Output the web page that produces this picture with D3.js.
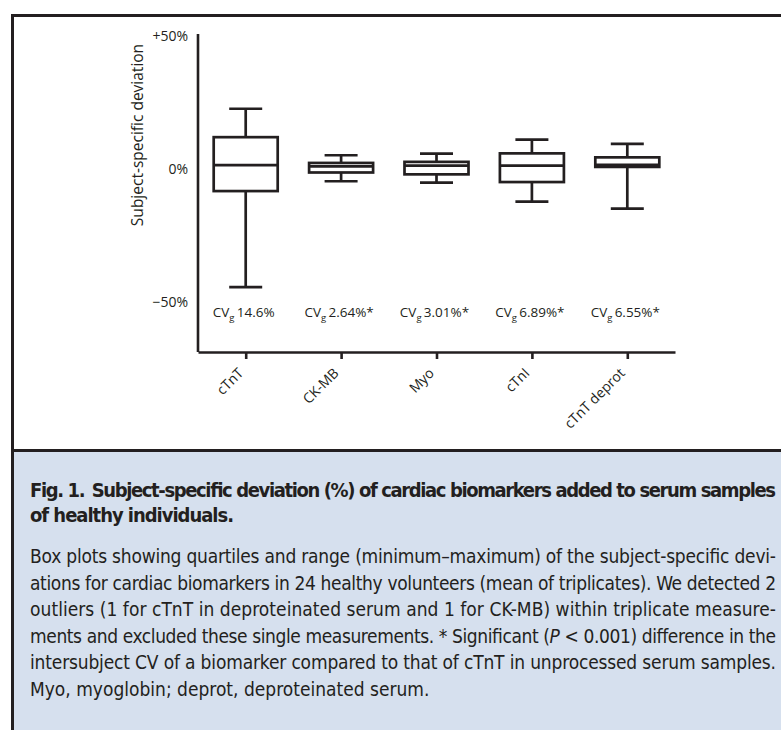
<!DOCTYPE html>
<html>
<head>
<meta charset="utf-8">
<script src="https://cdn.jsdelivr.net/npm/d3@7"></script>
<style>
  body { margin: 0; background: #fff; }
  svg { display: block; }
  .axis path, .axis line { stroke: #231f20; stroke-width: 2.6px; }
  .axis text { font-family: "Open Sans", sans-serif; font-size: 14px; fill: #231f20; }
  .box rect, .box line { stroke: #231f20; stroke-width: 2.7px; fill: none; }
  .cv { font-family: "Open Sans", sans-serif; font-size: 13.5px; fill: #231f20; }
  .cap { font-family: "Liberation Sans Narrow", "DejaVu Sans Condensed", sans-serif; fill: #231f20; }
</style>
</head>
<body>
<svg id="chart" width="781" height="730"></svg>
<script>
// values (subject-specific deviation, %)
const categories = ["cTnT", "CK-MB", "Myo", "cTnI", "cTnT deprot"];
const mins    = [-44.6, -4.7, -5.2, -12.4, -15.0];
const q1s     = [-8.4, -1.4, -2.1, -5.0, 0.7];
const medians = [1.4, 0.9, 1.2, 1.2, 1.5];
const q3s     = [11.9, 2.2, 2.6, 5.8, 4.3];
const maxs    = [22.6, 5.1, 5.7, 11.0, 9.4];
const cvValues = ["14.6%", "2.64%*", "3.01%*", "6.89%*", "6.55%*"];
const yTicks = [-50, 0, 50];
const yTickLabels = ["\u221250%", "0%", "+50%"];

const titleLine1 = ["Fig. 1.", "Subject-specific deviation (%) of cardiac biomarkers added to serum samples"];
const titleLine2 = "of healthy individuals.";
const bodyLines = [
  "Box plots showing quartiles and range (minimum\u2013maximum) of the subject-specific devi-",
  "ations for cardiac biomarkers in 24 healthy volunteers (mean of triplicates). We detected 2",
  "outliers (1 for cTnT in deproteinated serum and 1 for CK-MB) within triplicate measure-",
  ["ments and excluded these single measurements. * Significant (", "P", " < 0.001) difference in the"],
  "intersubject CV of a biomarker compared to that of cTnT in unprocessed serum samples.",
  "Myo, myoglobin; deprot, deproteinated serum."
];

const svg = d3.select("#chart");

// caption panel + frame
svg.append("rect")
  .attr("x", 12).attr("y", 451).attr("width", 781).attr("height", 300)
  .attr("fill", "#d6e0ee");
svg.append("path")
  .attr("d", "M12.5,740 V15.5 H790 M12,450.5 H790")
  .attr("fill", "none").attr("stroke", "#231f20").attr("stroke-width", 3);

// scales
const x = d3.scalePoint().domain(categories).range([198, 675]).padding(0.5);
const y = d3.scaleLinear().domain([-69, 50]).range([352, 36]);
const boxW = 64, capW = 33;

// axes
const yAxis = svg.append("g").attr("class", "axis")
  .attr("transform", "translate(198,0)")
  .call(d3.axisLeft(y).tickValues(yTicks).tickSize(0).tickPadding(10)
    .tickFormat((d, i) => yTickLabels[i]));
yAxis.select(".domain").attr("d", `M0,${y(50) - 2}V${y(-69)}`);

const xAxis = svg.append("g").attr("class", "axis")
  .attr("transform", "translate(0,352)")
  .call(d3.axisBottom(x).tickSizeInner(7).tickSizeOuter(0));
xAxis.selectAll("text")
  .attr("y", 0).attr("dy", 0).attr("x", 0)
  .attr("text-anchor", "end")
  .attr("transform", "translate(-2,22) rotate(-45)");

svg.append("text")
  .attr("transform", "translate(143,135) rotate(-90)")
  .attr("text-anchor", "middle")
  .style("font-family", "Open Sans, sans-serif").style("font-size", "15.5px").style("fill", "#231f20")
  .text("Subject-specific deviation");

// boxes
const rows = categories.map((c, i) => ({
  c, min: mins[i], q1: q1s[i], med: medians[i], q3: q3s[i], max: maxs[i], cv: cvValues[i]
}));

const g = svg.append("g").selectAll("g").data(rows).join("g")
  .attr("class", "box")
  .attr("transform", d => `translate(${x(d.c)},0)`);

g.append("line").attr("x1", 0).attr("x2", 0).attr("y1", d => y(d.max)).attr("y2", d => y(d.q3));
g.append("line").attr("x1", 0).attr("x2", 0).attr("y1", d => y(d.q1)).attr("y2", d => y(d.min));
g.append("line").attr("x1", -capW / 2).attr("x2", capW / 2).attr("y1", d => y(d.max)).attr("y2", d => y(d.max));
g.append("line").attr("x1", -capW / 2).attr("x2", capW / 2).attr("y1", d => y(d.min)).attr("y2", d => y(d.min));
g.append("rect")
  .attr("x", -boxW / 2).attr("width", boxW)
  .attr("y", d => y(d.q3)).attr("height", d => y(d.q1) - y(d.q3));
g.append("line").attr("x1", -boxW / 2).attr("x2", boxW / 2).attr("y1", d => y(d.med)).attr("y2", d => y(d.med));

const cv = g.append("text").attr("class", "cv")
  .attr("x", -2).attr("y", 317).attr("text-anchor", "middle");
cv.append("tspan").text("CV");
cv.append("tspan").attr("dy", 4).style("font-size", "9.5px").text("g");
cv.append("tspan").attr("dy", -4).text(d => "\u2009" + d.cv);

// caption text, justified lines stretched to the column width
const t1 = svg.append("text").attr("class", "cap")
  .attr("x", 30).attr("y", 497)
  .attr("textLength", 746).attr("lengthAdjust", "spacing")
  .style("font-size", "20px").style("font-weight", "bold");
t1.append("tspan").text(titleLine1[0]);
t1.append("tspan").text("\u2002" + titleLine1[1]);

svg.append("text").attr("class", "cap")
  .attr("x", 30).attr("y", 522)
  .attr("textLength", 204).attr("lengthAdjust", "spacing")
  .style("font-size", "20px").style("font-weight", "bold")
  .text(titleLine2);

bodyLines.forEach((line, i) => {
  const t = svg.append("text").attr("class", "cap")
    .attr("x", 30).attr("y", 563 + i * 26.6)
    .style("font-size", "19px");
  if (i < bodyLines.length - 1) t.attr("textLength", 746).attr("lengthAdjust", "spacing");
  if (Array.isArray(line)) {
    line.forEach((part, j) => t.append("tspan").style("font-style", j === 1 ? "italic" : null).text(part));
  } else {
    t.text(line);
  }
});
</script>
</body>
</html>
